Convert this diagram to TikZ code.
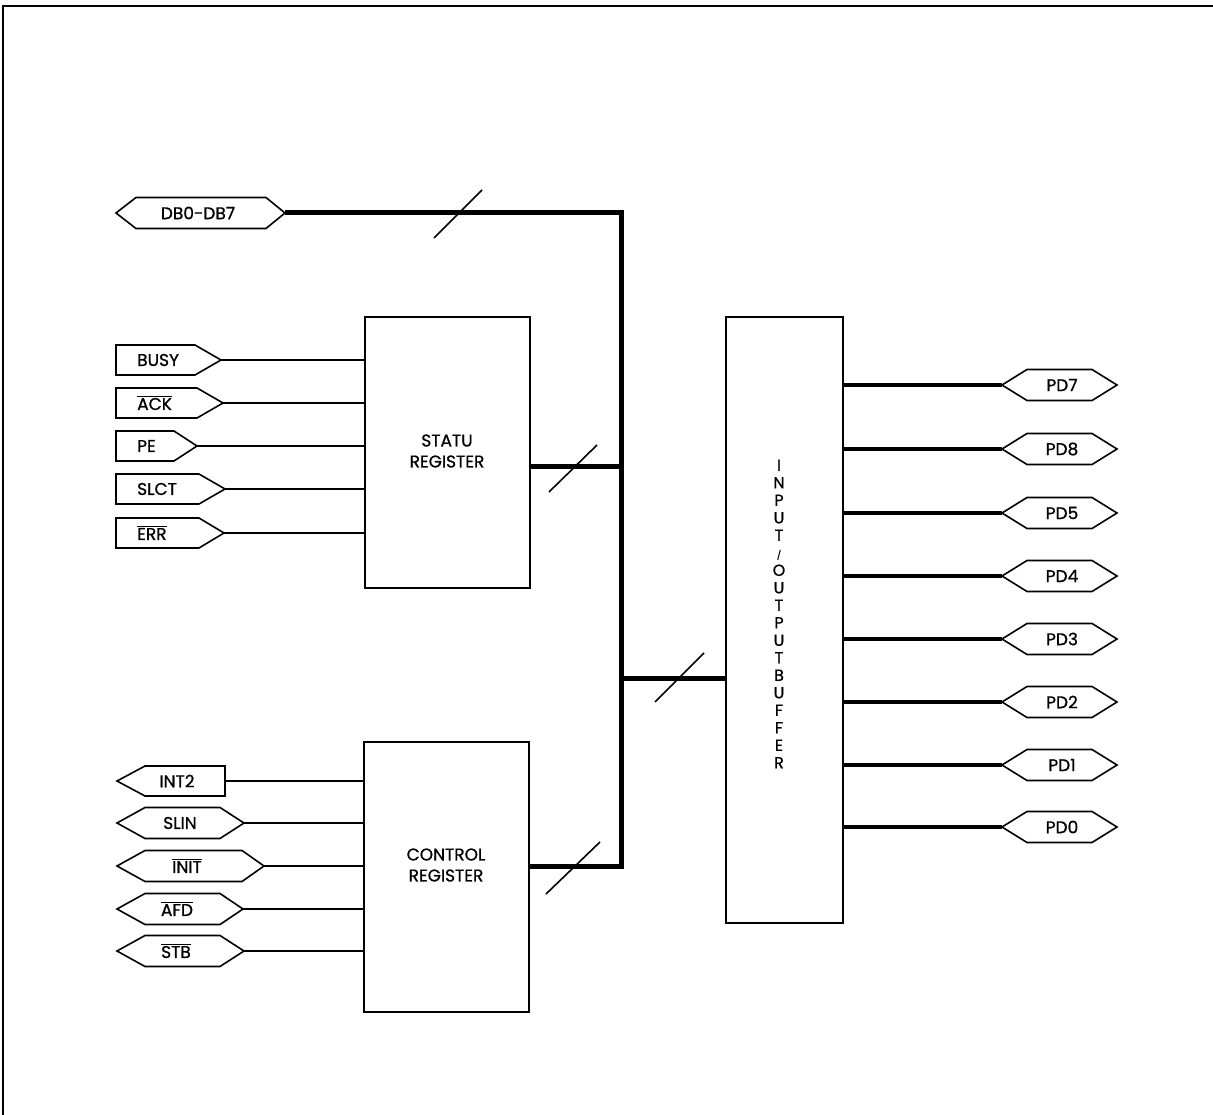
\documentclass[tikz,border=0pt]{standalone}
\usepackage{fontspec}
\setmainfont{Poppins}[FakeBold=0.9]
\newcommand\ovl[1]{$\overline{\hbox{#1}}$}
\tikzset{
  thinline/.style={line width=1.8pt},
  busline/.style={line width=5pt},
  slashline/.style={line width=1.6pt},
  boxshape/.style={draw, line width=2pt},
  sigshape/.style={draw, line width=1.6pt, line join=miter},
  lbl/.style={font=\fontsize{17}{19}\selectfont, inner sep=0pt},
}
\newcommand\SigR[6]{% name, left, slant start, tip, y, text  (pointing right, flat left)
  \draw[sigshape] (#2,#5-15) -- (#3,#5-15) -- (#4,#5) -- (#3,#5+15) -- (#2,#5+15) -- cycle;
  \node[lbl, anchor=west] (#1t) at (137,#5) {#6};
  \coordinate (#1) at (#4,#5);}
\newcommand\SigL[6]{% name, tip, slant end, right, y, text (pointing left, flat right)
  \draw[sigshape] (#2,#5) -- (#3,#5-15) -- (#4,#5-15) -- (#4,#5+15) -- (#3,#5+15) -- cycle;
  \node[lbl] (#1t) at (177,#5) {#6};
  \coordinate (#1) at (#4,#5);}
\newcommand\SigH[8]{% name, lefttip, a, b, righttip, y, textx, text
  \draw[sigshape] (#2,#6) -- (#3,#6-15.5) -- (#4,#6-15.5) -- (#5,#6) -- (#4,#6+15.5) -- (#3,#6+15.5) -- cycle;
  \node[lbl] (#1t) at (#7,#6) {#8};
  \coordinate (#1L) at (#2,#6);
  \coordinate (#1R) at (#5,#6);}
\begin{document}
\begin{tikzpicture}[x=1pt,y=-1pt]
\useasboundingbox (0,0) rectangle (1213,1115);
% frame
\draw[line width=2.4pt] (3,1115) -- (3,6) -- (1213,6);

% boxes
\node[boxshape, minimum width=165pt, minimum height=271pt, anchor=north west, inner sep=0pt] (status) at (364,316) {};
\node[lbl, align=center] at (447,451) {STATU\\[2pt]REGISTER};
\node[boxshape, minimum width=165pt, minimum height=270pt, anchor=north west, inner sep=0pt] (control) at (363,741) {};
\node[lbl, align=center] at (446,865) {CONTROL\\[2pt]REGISTER};
\node[boxshape, minimum width=117pt, minimum height=606pt, anchor=north west, inner sep=0pt] (iob) at (725,316) {};
\node[lbl, align=center, font=\fontsize{16}{17.5}\selectfont] at (779,614) {I\\N\\P\\U\\T\\{\fontsize{9}{17.5}\selectfont /}\\O\\U\\T\\P\\U\\T\\B\\U\\F\\F\\E\\R};

% data bus
\SigH{db}{116}{136}{266}{285}{213}{198}{DB0-DB7}
\coordinate (corner1) at (621,213);
\coordinate (corner2) at (621,866);
\draw[busline, line join=miter] (dbR) -- (corner1) -- (corner2) -- (corner2 -| control.east);
\draw[busline] (status.east |- 0,466) -- (621,466);
\draw[busline] (621,678) -- (iob.west |- 0,678);
\draw[slashline] (434,238) -- (482,190);
\draw[slashline] (549,492) -- (597,445);
\draw[slashline] (655,702) -- (704,653);
\draw[slashline] (546,894) -- (600,842);

% status inputs
\SigR{busy}{116}{195}{221}{360}{BUSY}
\SigR{ack}{116}{197}{223}{403}{\ovl{ACK}}
\SigR{pe}{116}{174}{197}{446}{PE}
\SigR{slct}{116}{199}{225}{489}{SLCT}
\SigR{err}{116}{199}{224}{533}{\ovl{ERR}}
\foreach \s in {busy,ack,pe,slct,err}
  \draw[thinline] (\s) -- (\s -| status.west);

% control outputs
\SigL{int}{117}{145}{225}{781}{INT2}
\SigH{slin}{117}{145}{220}{244}{823}{180}{SLIN}
\SigH{init}{117}{145}{242}{264}{866}{187}{\ovl{INIT}}
\SigH{afd}{117}{145}{220}{243}{909}{177}{\ovl{AFD}}
\SigH{stb}{117}{145}{220}{244}{951}{176}{\ovl{STB}}
\draw[thinline] (int) -- (int -| control.west);
\foreach \s in {slin,init,afd,stb}
  \draw[thinline] (\s R) -- (\s R -| control.west);

% parallel data
\foreach \n/\y in {pd7/385, pd8/449, pd5/513, pd4/576, pd3/639, pd2/702, pd1/765, pd0/827}{
  \SigH{\n}{1002}{1027}{1092}{1117}{\y}{1062}{\MakeUppercase{\n}}
  \draw[busline, line width=4.5pt] (iob.east |- \n L) -- (\n L);
}
\end{tikzpicture}
\end{document}
